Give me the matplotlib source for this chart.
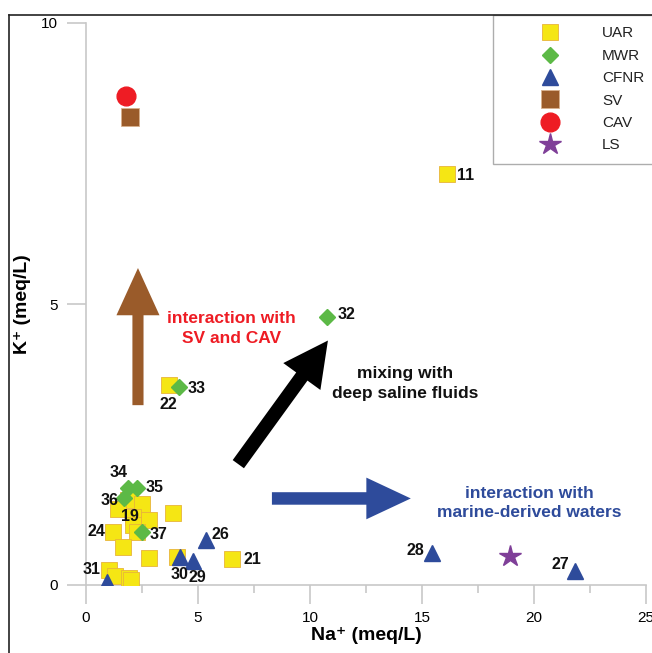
import matplotlib
matplotlib.use("Agg")
import matplotlib.pyplot as plt
from matplotlib.patches import FancyArrowPatch
from matplotlib.lines import Line2D

plt.rcParams['font.family'] = ['Liberation Sans', 'DejaVu Sans']

# ---- data (Na+, K+ in meq/L) ----
uar_na = [16.1, 3.7, 1.86, 2.49, 1.44, 3.9, 2.1, 2.81, 2.1, 2.26, 1.22, 1.64, 2.81, 4.05, 6.52, 1.03, 1.29, 1.92, 2.0]
uar_k = [7.31, 3.56, 1.51, 1.44, 1.36, 1.28, 1.21, 1.16, 1.07, 0.95, 0.95, 0.68, 0.475, 0.49, 0.46, 0.27, 0.16, 0.12, 0.09]
mwr_na = [10.76, 4.15, 1.875, 2.28, 1.7, 2.5]
mwr_k = [4.77, 3.52, 1.73, 1.73, 1.55, 0.94]
cfnr_na = [5.36, 4.2, 4.78, 0.94, 15.45, 21.83]
cfnr_k = [0.80, 0.50, 0.43, 0.05, 0.57, 0.25]
sv_na = [1.96]
sv_k = [8.33]
cav_na = [1.79]
cav_k = [8.70]
ls_na = [18.93]
ls_k = [0.52]

# sample labels: (text, x, y, dx_px, dy_px, ha)
labels = [
    ("11", 16.1, 7.31, 10, -1, 'left'),
    ("32", 10.76, 4.77, 11, 2, 'left'),
    ("22", 3.7, 3.56, -1, -20, 'center'),
    ("33", 4.15, 3.52, 9, -1, 'left'),
    ("34", 1.875, 1.73, -9, 15, 'center'),
    ("35", 2.28, 1.73, 9, 0, 'left'),
    ("36", 1.7, 1.55, -6, -3, 'right'),
    ("19", 2.1, 1.21, -3, 0, 'center'),
    ("37", 2.5, 0.94, 8, -2, 'left'),
    ("24", 1.22, 0.95, -8, 0, 'right'),
    ("26", 5.36, 0.80, 5, 6, 'left'),
    ("30", 4.2, 0.50, -1, -18, 'center'),
    ("29", 4.78, 0.43, 4, -17, 'center'),
    ("21", 6.52, 0.46, 11, 0, 'left'),
    ("31", 1.03, 0.27, -8, 0, 'right'),
    ("28", 15.45, 0.57, -8, 2, 'right'),
    ("27", 21.83, 0.25, -6, 6, 'right'),
]

fig = plt.figure(figsize=(6.52, 6.53), dpi=100)
ax = fig.add_axes([86/652, 1-585/653, (646-86)/652, (585-23)/653])

grey = '#c8c8c8'
ax.plot(uar_na, uar_k, 's', ms=11, mfc='#f5e614', mec='#e8b43a', mew=0.6, ls='none', label='UAR', zorder=3)
ax.plot(mwr_na, mwr_k, 'D', ms=8, mfc='#5cb946', mec='#5cb946', ls='none', label='MWR', zorder=4)
ax.plot(cfnr_na, cfnr_k, '^', ms=12, mfc='#2e4b9b', mec='#2e4b9b', ls='none', label='CFNR', zorder=4)
ax.plot(sv_na, sv_k, 's', ms=13, mfc='#9a5b2a', mec='#d9b08c', mew=0.6, ls='none', label='SV', zorder=3)
ax.plot(cav_na, cav_k, 'o', ms=13.5, mfc='#ee1c24', mec='#ee1c24', ls='none', label='CAV', zorder=3)
ax.plot(ls_na, ls_k, '*', ms=16, mfc='#7f3f98', mec='#7f3f98', ls='none', label='LS', zorder=3)

for t, x, y, dx, dy, ha in labels:
    ax.annotate(t, (x, y), xytext=(dx*0.72, dy*0.72), textcoords='offset points',
                ha=ha, va='center', fontsize=11.5, fontweight='bold', color='#111111', zorder=6)

ax.set_xlim(0, 25)
ax.set_ylim(0, 10)
ax.set_xticks([0, 5, 10, 15, 20, 25])
ax.set_xticks([2.5, 7.5, 12.5, 17.5, 22.5], minor=True)
ax.set_yticks([0, 5, 10])
for s in ['top', 'right']:
    ax.spines[s].set_visible(False)
for s in ['left', 'bottom']:
    ax.spines[s].set_color(grey)
    ax.spines[s].set_linewidth(1.2)
ax.tick_params(which='major', length=14, width=1.2, color=grey, labelsize=11, pad=6)
ax.tick_params(axis='x', which='minor', length=6, width=1.2, color=grey)
ax.tick_params(axis='x', which='major', pad=5)

ax.set_xlabel('Na⁺ (meq/L)', fontsize=14, fontweight='bold', labelpad=1)
ax.set_ylabel('K⁺ (meq/L)', fontsize=14, fontweight='bold', labelpad=7)

# arrows
def arrow(p0, p1, color, hw, hl, tw):
    a = FancyArrowPatch(p0, p1, arrowstyle=f"simple,head_width={hw},head_length={hl},tail_width={tw}",
                        mutation_scale=1, color=color, shrinkA=0, shrinkB=0, zorder=2, lw=0)
    ax.add_patch(a)

arrow((2.32, 3.2), (2.32, 5.64), '#9a5b2a', 31, 34, 8)
arrow((6.8, 2.15), (10.8, 4.35), '#000000', 33, 32, 10)
arrow((8.3, 1.54), (14.5, 1.54), '#2e4b9b', 30, 32, 9)

ax.text(6.5, 4.57, 'interaction with\nSV and CAV', color='#ee1c24', fontsize=12.5,
        fontweight='bold', ha='center', va='center', linespacing=1.4)
ax.text(14.24, 3.58, 'mixing with\ndeep saline fluids', color='#111111', fontsize=12.5,
        fontweight='bold', ha='center', va='center', linespacing=1.4)
ax.text(19.78, 1.46, 'interaction with\nmarine-derived waters', color='#2e4b9b', fontsize=12.5,
        fontweight='bold', ha='center', va='center', linespacing=1.4)

leg = ax.legend(loc='upper left', bbox_to_anchor=(493/652, 1-15/653), bbox_transform=fig.transFigure,
                frameon=True, fancybox=False, edgecolor='#999999', fontsize=11,
                borderpad=0.75, labelspacing=0.55, handlelength=6.0, handletextpad=0.4,
                borderaxespad=0, numpoints=1)
leg.get_frame().set_linewidth(1.0)
for t in leg.get_texts():
    t.set_color('#222222')

# figure frame (left and top lines)
fig.add_artist(Line2D([9/652, 9/652], [0, 1-15/653], transform=fig.transFigure, color='#222222', lw=1.2))
fig.add_artist(Line2D([9/652, 1], [1-15/653, 1-15/653], transform=fig.transFigure, color='#222222', lw=1.2))

fig.savefig('out.png', dpi=100)
